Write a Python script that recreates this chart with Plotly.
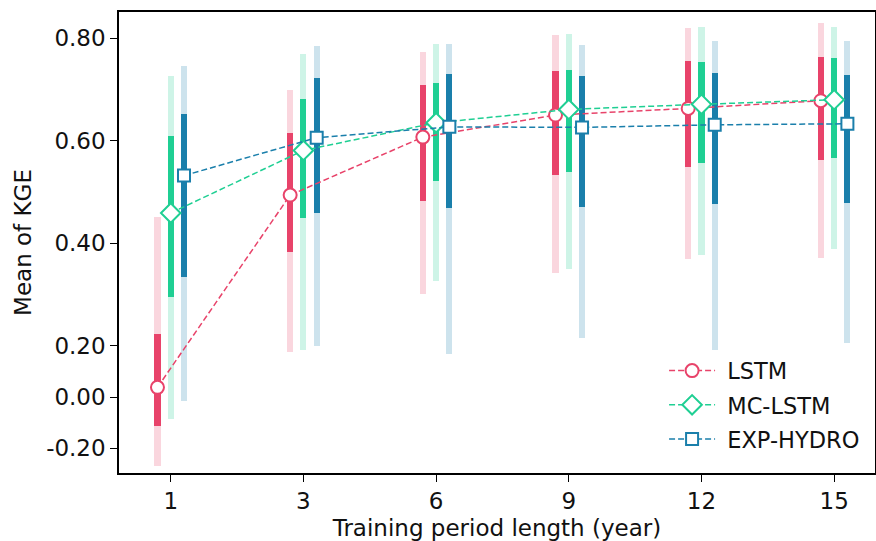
import plotly.graph_objects as go

# ---------------- data ----------------
periods = ["1", "3", "6", "9", "12", "15"]
models = ["LSTM", "MC-LSTM", "EXP-HYDRO"]

lstm_mean = [0.038, 0.494, 0.607, 0.650, 0.663, 0.678]
lstm_q_lo = [-0.111, 0.383, 0.483, 0.533, 0.549, 0.563]
lstm_q_hi = [0.224, 0.615, 0.708, 0.736, 0.755, 0.764]
lstm_w_lo = [-0.270, 0.174, 0.302, 0.342, 0.369, 0.372]
lstm_w_hi = [0.452, 0.699, 0.773, 0.807, 0.819, 0.829]

mc_mean = [0.459, 0.581, 0.635, 0.661, 0.671, 0.680]
mc_q_lo = [0.295, 0.449, 0.521, 0.539, 0.556, 0.566]
mc_q_hi = [0.610, 0.681, 0.712, 0.738, 0.753, 0.762]
mc_w_lo = [-0.085, 0.185, 0.326, 0.350, 0.377, 0.388]
mc_w_hi = [0.727, 0.769, 0.789, 0.808, 0.821, 0.821]

exp_mean = [0.532, 0.606, 0.627, 0.626, 0.631, 0.633]
exp_q_lo = [0.335, 0.459, 0.469, 0.471, 0.476, 0.479]
exp_q_hi = [0.652, 0.722, 0.731, 0.726, 0.732, 0.728]
exp_w_lo = [-0.014, 0.200, 0.170, 0.215, 0.185, 0.205]
exp_w_hi = [0.746, 0.785, 0.789, 0.787, 0.794, 0.794]

y_ticks = [-0.2, 0.0, 0.2, 0.4, 0.6, 0.8]
y_tick_labels = ["-0.20", "0.00", "0.20", "0.40", "0.60", "0.80"]

# ---------------- styles ----------------
colors = ["#e8436a", "#1fcf93", "#1a7fab"]
light = ["rgba(232,67,106,0.22)", "rgba(31,207,147,0.22)", "rgba(26,127,171,0.22)"]
symbols = ["circle", "diamond", "square"]
msizes = [13, 15, 12]
offsets = [-0.1, 0.0, 0.1]
bar_w = 0.046


def T(v):
    # axis is compressed by half below 0.20 (as in the reference)
    return v if v >= 0.2 else 0.2 + (v - 0.2) / 2.0


series = [
    (lstm_mean, lstm_q_lo, lstm_q_hi, lstm_w_lo, lstm_w_hi),
    (mc_mean, mc_q_lo, mc_q_hi, mc_w_lo, mc_w_hi),
    (exp_mean, exp_q_lo, exp_q_hi, exp_w_lo, exp_w_hi),
]

fig = go.Figure()
xs_base = list(range(len(periods)))

for i, (mean, qlo, qhi, wlo, whi) in enumerate(series):
    xs = [x + offsets[i] for x in xs_base]
    fig.add_trace(go.Bar(
        x=xs, base=[T(v) for v in wlo],
        y=[T(h) - T(l) for l, h in zip(wlo, whi)],
        width=bar_w, marker=dict(color=light[i], line=dict(width=0)),
        showlegend=False, hoverinfo="skip"))

for i, (mean, qlo, qhi, wlo, whi) in enumerate(series):
    xs = [x + offsets[i] for x in xs_base]
    fig.add_trace(go.Bar(
        x=xs, base=[T(v) for v in qlo],
        y=[T(h) - T(l) for l, h in zip(qlo, qhi)],
        width=bar_w, marker=dict(color=colors[i], line=dict(width=0)),
        showlegend=False, hoverinfo="skip"))

for i, (mean, qlo, qhi, wlo, whi) in enumerate(series):
    xs = [x + offsets[i] for x in xs_base]
    fig.add_trace(go.Scatter(
        x=xs, y=[T(v) for v in mean], mode="lines+markers", name=" " + models[i],
        legendgroup=models[i],
        line=dict(color=colors[i], width=1.5, dash="6px,3px"),
        marker=dict(symbol=symbols[i], size=msizes[i], color="white",
                    line=dict(width=2, color=colors[i])),
    ))

font = "DejaVu Sans"
fig.update_layout(
    width=876, height=541,
    margin=dict(l=119, r=1, t=12, b=68),
    paper_bgcolor="white", plot_bgcolor="white",
    barmode="overlay", bargap=0,
    font=dict(family=font, size=23, color="#111111"),
    showlegend=True,
    legend=dict(x=0.721, y=0.268, xanchor="left", yanchor="top",
                bgcolor="rgba(0,0,0,0)", font=dict(size=22.5, family=font),
                itemwidth=46, tracegroupgap=2, traceorder="grouped"),
    xaxis=dict(range=[-0.39, 5.308], tickmode="array", tickvals=xs_base,
               ticktext=periods, showgrid=False, zeroline=False,
               showline=True, linecolor="black", linewidth=1.5, mirror=True,
               ticks="outside", ticklen=7, tickwidth=1.3, tickcolor="black",
               automargin=False,
               title=dict(text="Training period length (year)", standoff=12,
                          font=dict(size=23, family=font))),
    yaxis=dict(range=[-0.048, 0.851], tickmode="array",
               tickvals=[T(v) for v in y_ticks], ticktext=y_tick_labels,
               showgrid=False, zeroline=False,
               showline=True, linecolor="black", linewidth=1.5, mirror=True,
               ticks="outside", ticklen=7, tickwidth=1.3, tickcolor="black",
               automargin=False,
               title=dict(text="Mean of KGE", standoff=8,
                          font=dict(size=23, family=font))),
)

fig.write_html("out.html", config={"displayModeBar": False},
               post_script="document.body.style.margin='0';"
                           "document.body.style.overflow='hidden';")
